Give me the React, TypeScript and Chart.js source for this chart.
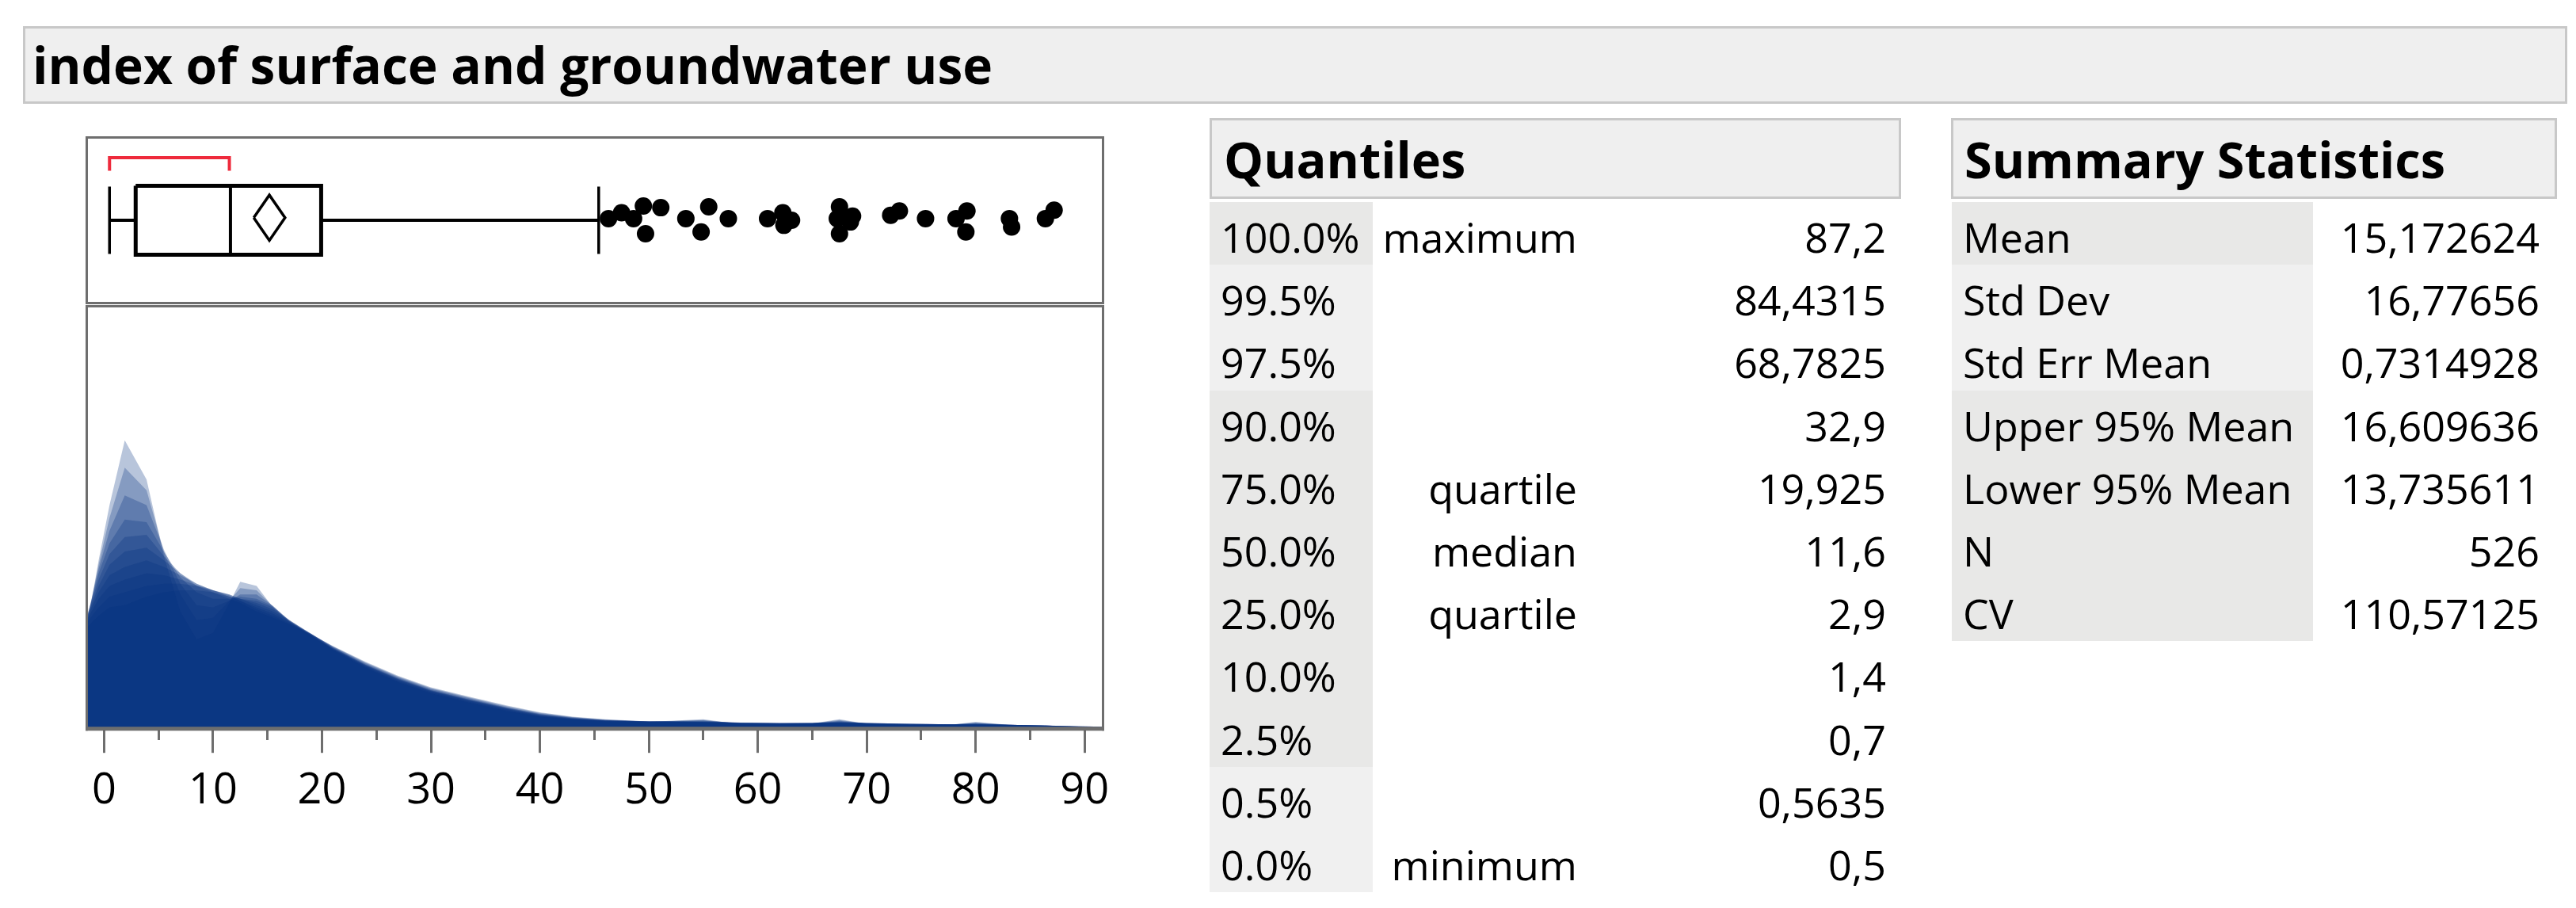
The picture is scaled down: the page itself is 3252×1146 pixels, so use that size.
import React, { useEffect, useRef } from "react";
import { Chart, registerables } from "chart.js";
Chart.register(...registerables);

// ---------- data ----------
const TITLE = "index of surface and groundwater use";

const quantileLabels = ["100.0%", "99.5%", "97.5%", "90.0%", "75.0%", "50.0%", "25.0%", "10.0%", "2.5%", "0.5%", "0.0%"];
const quantileNames = ["maximum", "", "", "", "quartile", "median", "quartile", "", "", "", "minimum"];
const quantileValues = [87.2, 84.4315, 68.7825, 32.9, 19.925, 11.6, 2.9, 1.4, 0.7, 0.5635, 0.5];

const statLabels = ["Mean", "Std Dev", "Std Err Mean", "Upper 95% Mean", "Lower 95% Mean", "N", "CV"];
const statValues = [15.172624, 16.77656, 0.7314928, 16.609636, 13.735611, 526, 110.57125];

// box plot pieces
const upperWhisker = 45.4;
const shortestHalf = [0.5, 11.5];

// outliers beyond the upper whisker (value, vertical jitter)
const outlierValues = [46.3, 47.5, 48.6, 49.5, 49.7, 51.1, 53.4, 54.8, 55.5, 57.3, 60.9, 62.3, 62.4, 63.1, 67.3, 67.5, 67.5, 68.5, 68.7, 72.2, 73.0, 75.4, 78.2, 79.2, 79.1, 83.1, 83.3, 86.4, 87.2];
const outlierJitter = [0.02, 0.09, 0.02, 0.17, -0.16, 0.15, 0.02, -0.14, 0.16, 0.02, 0.02, 0.09, -0.06, 0.0, 0.02, 0.16, -0.16, -0.02, 0.05, 0.06, 0.11, 0.02, 0.02, 0.11, -0.14, 0.02, -0.08, 0.02, 0.12];

// shadowgram: density curves from narrow to wide bandwidth
const densityX = [-1.7, -0.5, 0.5, 1.9, 3.9, 5.5, 7, 8.5, 10, 11.5, 12.5, 14, 15.5, 17, 19, 21, 24, 27, 30, 33.5, 37, 40, 43, 46, 50, 55, 58.5, 62, 65, 67.5, 70, 74, 78, 80, 83, 86.5, 91.8];
const kde1 = [22.5, 40, 53, 68.2, 59, 41, 28, 21.5, 23, 30, 35, 34, 29, 25.6, 22.3, 19.0, 14.8, 11.4, 8.8, 6.6, 4.6, 3.3, 2.6, 2.2, 2.1, 2.7, 1.5, 1.6, 1.7, 2.7, 1.6, 1.4, 1.5, 2.1, 1.4, 1.2, 0.7];
const kde2 = [24, 39, 50, 61.8, 56.5, 42, 32, 26, 26.5, 30.5, 33.5, 33, 29.2, 25.7, 22.4, 19.1, 15.0, 11.6, 9.0, 6.8, 4.8, 3.4, 2.7, 2.3, 2.1, 2.5, 1.6, 1.6, 1.7, 2.5, 1.6, 1.4, 1.5, 1.9, 1.4, 1.2, 0.7];
const kde3 = [25, 38, 47, 55.3, 53, 42.5, 34.5, 29.5, 29, 30.5, 32, 32, 29.3, 25.8, 22.5, 19.2, 15.2, 11.8, 9.2, 7.0, 5.0, 3.5, 2.8, 2.3, 2.2, 2.4, 1.7, 1.6, 1.7, 2.3, 1.7, 1.5, 1.5, 1.8, 1.4, 1.2, 0.8];
const kde4 = [25.5, 37, 44, 49.6, 49, 42, 36, 32.5, 31, 31, 31.5, 31, 29.3, 25.9, 22.6, 19.3, 15.3, 12.0, 9.3, 7.1, 5.1, 3.6, 2.8, 2.3, 2.2, 2.3, 1.8, 1.7, 1.7, 2.2, 1.7, 1.5, 1.5, 1.7, 1.4, 1.2, 0.8];
const kde5 = [26, 35.5, 41.5, 45.5, 46, 41, 37, 34, 32.5, 31.5, 31, 30.5, 29, 26, 22.7, 19.4, 15.4, 12.1, 9.4, 7.2, 5.2, 3.7, 2.9, 2.4, 2.2, 2.2, 1.8, 1.7, 1.8, 2.1, 1.8, 1.5, 1.5, 1.6, 1.4, 1.2, 0.8];
const kde6 = [26, 34, 39, 42.1, 43, 40, 37, 34.5, 33, 32, 31, 30, 28.5, 26, 22.8, 19.5, 15.5, 12.2, 9.5, 7.3, 5.3, 3.8, 2.9, 2.4, 2.2, 2.1, 1.9, 1.7, 1.8, 2.0, 1.8, 1.6, 1.5, 1.5, 1.4, 1.2, 0.8];
const kde7 = [26, 32.5, 36.5, 38.5, 40, 38.5, 36.5, 34.5, 33, 32, 31, 29.5, 28, 25.8, 22.8, 19.6, 15.6, 12.3, 9.6, 7.4, 5.4, 3.9, 3.0, 2.5, 2.2, 2.1, 1.9, 1.8, 1.8, 1.9, 1.8, 1.6, 1.5, 1.5, 1.4, 1.2, 0.9];
const kde8 = [25.5, 31, 34, 35.5, 37, 36.5, 35.5, 34.2, 33, 31.8, 30.5, 29, 27.5, 25.5, 22.8, 19.7, 15.8, 12.5, 9.8, 7.6, 5.5, 4.0, 3.1, 2.5, 2.2, 2.0, 1.9, 1.8, 1.8, 1.9, 1.8, 1.6, 1.5, 1.5, 1.4, 1.2, 0.9];
const kde9 = [25, 29, 31.5, 32.5, 34, 34.5, 34.5, 34, 33, 31.5, 30.5, 28.5, 27, 25.2, 22.7, 19.8, 16.0, 12.7, 10.0, 7.8, 5.7, 4.2, 3.2, 2.6, 2.2, 2.0, 1.9, 1.8, 1.8, 1.8, 1.8, 1.6, 1.5, 1.5, 1.4, 1.2, 0.9];
const kde10 = [24, 27, 29, 29.5, 31.5, 32.5, 33, 33, 32.5, 31, 30, 28, 26.5, 25, 22.6, 19.9, 16.2, 12.9, 10.2, 8.0, 5.9, 4.3, 3.3, 2.7, 2.2, 2.0, 1.9, 1.8, 1.8, 1.8, 1.7, 1.6, 1.5, 1.5, 1.4, 1.2, 0.9];
const densityLayers = [kde1, kde2, kde3, kde4, kde5, kde6, kde7, kde8, kde9, kde10];

const X_MIN = -1.7;
const X_MAX = 91.8;

// ---------- styles ----------
const FONT = "'Open Sans', 'Noto Sans', sans-serif";
const FRAME = "#6e6e6e";
const SHADE_DARK = "#e8e8e7";
const SHADE_LIGHT = "#f0f0f0";
const quantileShade = [1, 0, 0, 1, 1, 1, 1, 1, 1, 0, 0];
const statShade = [1, 0, 0, 1, 1, 1, 1];
const fmt = (v: number) => String(v).replace(".", ",");

const framePlugin = (bottomWidth: number) => ({
  id: "frame",
  afterDatasetsDraw(chart: any) {
    const { ctx, chartArea: a } = chart;
    ctx.save();
    ctx.strokeStyle = FRAME;
    ctx.lineWidth = 3;
    ctx.beginPath();
    ctx.moveTo(a.left + 1.5, a.bottom);
    ctx.lineTo(a.left + 1.5, a.top + 1.5);
    ctx.lineTo(a.right - 1.5, a.top + 1.5);
    ctx.lineTo(a.right - 1.5, a.bottom);
    ctx.stroke();
    ctx.lineWidth = bottomWidth;
    ctx.beginPath();
    ctx.moveTo(a.left, a.bottom - bottomWidth / 2);
    ctx.lineTo(a.right, a.bottom - bottomWidth / 2);
    ctx.stroke();
    ctx.restore();
  },
});

function line(points: { x: number; y: number }[], color: string, width: number) {
  return {
    type: "line" as const,
    data: points,
    borderColor: color,
    borderWidth: width,
    pointRadius: 0,
    pointHoverRadius: 0,
    fill: false,
    tension: 0,
    showLine: true,
    borderJoinStyle: "miter" as const,
  };
}

function BoxChart() {
  const ref = useRef<HTMLCanvasElement>(null);
  useEffect(() => {
    const q1 = quantileValues[6];
    const med = quantileValues[5];
    const q3 = quantileValues[4];
    const mn = quantileValues[10];
    const mean = statValues[0];
    const up = statValues[3];
    const lo = statValues[4];
    const h = 0.41;
    const chart = new Chart(ref.current!, {
      type: "scatter",
      data: {
        datasets: [
          line([{ x: q1, y: h }, { x: q3, y: h }, { x: q3, y: -h }, { x: q1, y: -h }, { x: q1, y: h }], "#000", 5),
          line([{ x: med, y: h }, { x: med, y: -h }], "#000", 4),
          line([{ x: mn, y: 0 }, { x: q1, y: 0 }], "#000", 4),
          line([{ x: q3, y: 0 }, { x: upperWhisker, y: 0 }], "#000", 4),
          line([{ x: mn, y: 0.4 }, { x: mn, y: -0.4 }], "#000", 3.5),
          line([{ x: upperWhisker, y: 0.4 }, { x: upperWhisker, y: -0.4 }], "#000", 3.5),
          line([{ x: lo, y: 0.03 }, { x: mean, y: 0.3 }, { x: up, y: 0.03 }, { x: mean, y: -0.24 }, { x: lo, y: 0.03 }], "#000", 3.5),
          line([{ x: shortestHalf[0], y: 0.59 }, { x: shortestHalf[0], y: 0.745 }, { x: shortestHalf[1], y: 0.745 }, { x: shortestHalf[1], y: 0.59 }], "#ee2a3c", 4),
          {
            type: "scatter" as const,
            data: outlierValues.map((v, i) => ({ x: v, y: outlierJitter[i] })),
            backgroundColor: "#000",
            borderColor: "#000",
            borderWidth: 0,
            pointRadius: 11,
            pointHoverRadius: 11,
          },
        ] as any,
      },
      options: {
        animation: false,
        responsive: false,
        events: [],
        layout: { autoPadding: false, padding: { left: 48, right: 56, top: 0, bottom: 0 } },
        plugins: { legend: { display: false }, tooltip: { enabled: false } },
        scales: {
          x: { type: "linear", min: X_MIN, max: X_MAX, display: false },
          y: { type: "linear", min: -1, max: 1, display: false },
        },
      },
      plugins: [framePlugin(3)],
    });
    return () => chart.destroy();
  }, []);
  return (
    <canvas
      ref={ref}
      width={1390}
      height={212}
      style={{ position: "absolute", left: 60, top: 172, width: 1390, height: 212 }}
    />
  );
}

function DensityChart() {
  const ref = useRef<HTMLCanvasElement>(null);
  useEffect(() => {
    const chart = new Chart(ref.current!, {
      type: "line",
      data: {
        datasets: densityLayers.map((layer) => ({
          data: layer.map((y, i) => ({ x: densityX[i], y })),
          backgroundColor: "rgba(0, 46, 124, 0.28)",
          borderWidth: 0,
          borderColor: "rgba(0,0,0,0)",
          pointRadius: 0,
          pointHoverRadius: 0,
          tension: 0,
          fill: "origin",
        })),
      },
      options: {
        animation: false,
        responsive: false,
        events: [],
        layout: { autoPadding: false, padding: { left: 48, right: 56, top: 0, bottom: 0 } },
        plugins: { legend: { display: false }, tooltip: { enabled: false } },
        scales: {
          x: {
            type: "linear",
            min: X_MIN,
            max: X_MAX,
            border: { display: false },
            grid: {
              display: true,
              drawOnChartArea: false,
              drawTicks: true,
              tickLength: 28,
              tickWidth: 3,
              tickColor: FRAME,
              tickBorderDash: (ctx: any) => (ctx.tick && ctx.tick.value % 10 !== 0 ? [12, 200] : []),
            },
            ticks: {
              stepSize: 5,
              includeBounds: false,
              autoSkip: false,
              maxRotation: 0,
              padding: 16,
              color: "#000",
              font: { family: FONT, size: 54 },
              callback: (v: any) => (Number(v) % 10 === 0 ? String(v) : ""),
            },
          },
          y: { type: "linear", min: 0, max: 100, display: false },
        },
      },
      plugins: [framePlugin(5)],
    });
    return () => chart.destroy();
  }, []);
  return (
    <canvas
      ref={ref}
      width={1390}
      height={662}
      style={{ position: "absolute", left: 60, top: 385, width: 1390, height: 662 }}
    />
  );
}

const headerBox = (left: number, top: number, width: number, height: number, pad: number, size: number): React.CSSProperties => ({
  position: "absolute",
  left,
  top,
  width,
  height,
  boxSizing: "border-box",
  border: "3px solid #c8c8c8",
  background: "#efefef",
  display: "flex",
  alignItems: "center",
  paddingLeft: pad,
  fontFamily: FONT,
  fontWeight: 700,
  fontSize: size,
  color: "#000",
  whiteSpace: "nowrap",
  lineHeight: 1,
});

const ROW_TOP = 255;
const ROW_H = 79.2;
const cellText: React.CSSProperties = {
  position: "absolute",
  top: 0,
  height: ROW_H,
  lineHeight: `${ROW_H}px`,
  fontFamily: FONT,
  fontSize: 52,
  color: "#000",
  whiteSpace: "nowrap",
  paddingTop: 4,
  boxSizing: "border-box",
};

function QuantileTable() {
  return (
    <div style={{ position: "absolute", left: 1527, top: ROW_TOP }}>
      {quantileLabels.map((lab, i) => (
        <div key={lab} style={{ position: "absolute", left: 0, top: i * ROW_H, width: 860, height: ROW_H }}>
          <div style={{ ...cellText, left: 0, width: 206, paddingLeft: 14, background: quantileShade[i] ? SHADE_DARK : SHADE_LIGHT }}>{lab}</div>
          <div style={{ ...cellText, left: 206, width: 258, textAlign: "right" }}>{quantileNames[i]}</div>
          <div style={{ ...cellText, left: 464, width: 390, textAlign: "right" }}>{fmt(quantileValues[i])}</div>
        </div>
      ))}
    </div>
  );
}

function StatsTable() {
  return (
    <div style={{ position: "absolute", left: 2464, top: ROW_TOP }}>
      {statLabels.map((lab, i) => (
        <div key={lab} style={{ position: "absolute", left: 0, top: i * ROW_H, width: 760, height: ROW_H }}>
          <div style={{ ...cellText, left: 0, width: 456, paddingLeft: 14, background: statShade[i] ? SHADE_DARK : SHADE_LIGHT }}>{lab}</div>
          <div style={{ ...cellText, left: 456, width: 286, textAlign: "right" }}>{fmt(statValues[i])}</div>
        </div>
      ))}
    </div>
  );
}

export default function App() {
  return (
    <div style={{ position: "fixed", left: 0, top: 0, width: 3252, height: 1146, background: "#fff", overflow: "hidden" }}>
      <div style={headerBox(29, 33, 3212, 98, 9, 64)}>{TITLE}</div>
      <BoxChart />
      <DensityChart />
      <div style={headerBox(1527, 149, 873, 102, 15, 63)}>Quantiles</div>
      <QuantileTable />
      <div style={headerBox(2463, 149, 765, 102, 14, 63)}>Summary Statistics</div>
      <StatsTable />
    </div>
  );
}
